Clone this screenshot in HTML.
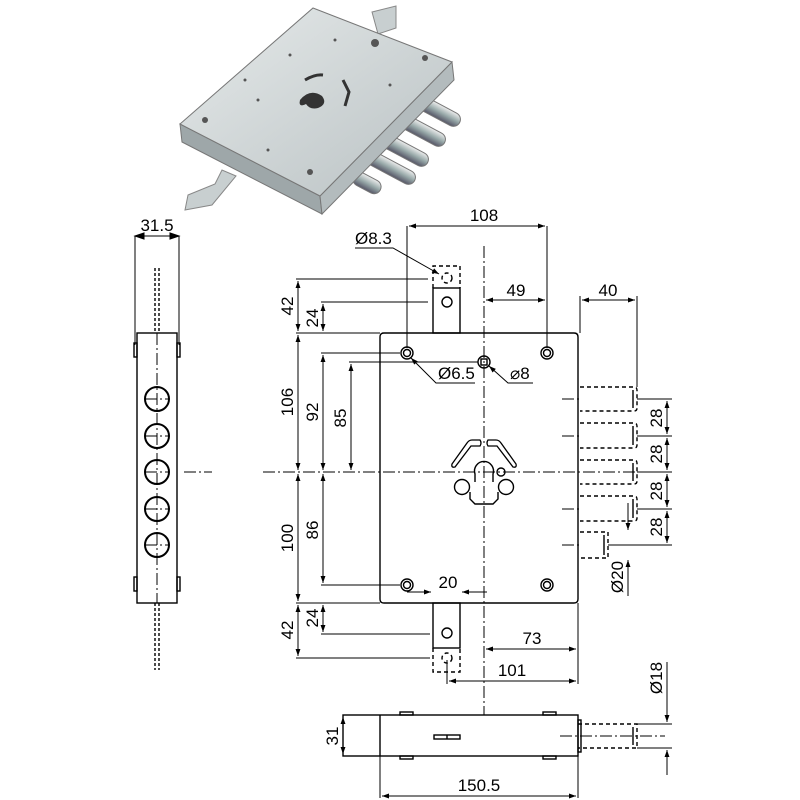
<!DOCTYPE html>
<html><head><meta charset="utf-8"><style>
html,body{margin:0;padding:0;background:#fff;}
svg{display:block;}
text{font-family:"Liberation Sans",sans-serif;font-size:17px;fill:#000;}
</style></head><body>
<svg width="800" height="800" viewBox="0 0 800 800" xmlns="http://www.w3.org/2000/svg">
<defs>
<marker id="a" viewBox="0 0 10 10" refX="10" refY="5" markerWidth="9" markerHeight="7" orient="auto-start-reverse" markerUnits="userSpaceOnUse"><path d="M0,1.5 L10,5 L0,8.5z" fill="#000"/></marker>
<linearGradient id="g" x1="0" y1="0" x2="1" y2="1"><stop offset="0" stop-color="#e6eaea"/><stop offset="1" stop-color="#b9c1c3"/></linearGradient>
<linearGradient id="c" x1="0" y1="0" x2="0" y2="1"><stop offset="0" stop-color="#eee"/><stop offset="0.5" stop-color="#9aa"/><stop offset="1" stop-color="#556"/></linearGradient>
</defs>

<!-- photo -->
<g>
<polygon points="372,12 396,6 396,28 378,34" fill="#c8cfd0" stroke="#888"/>
<polygon points="188,195 215,184 222,170 236,176 212,205 185,210" fill="#c8cfd0" stroke="#888"/>
<g stroke="#777" stroke-width="1">
<g fill="url(#c)">
<rect x="405" y="102" width="58" height="14" rx="7" transform="rotate(28 434 109)"/>
<rect x="390" y="122" width="58" height="14" rx="7" transform="rotate(28 419 129)"/>
<rect x="373" y="142" width="58" height="14" rx="7" transform="rotate(28 402 149)"/>
<rect x="360" y="160" width="58" height="14" rx="7" transform="rotate(28 389 167)"/>
<rect x="352" y="176" width="30" height="14" rx="7" transform="rotate(28 367 183)"/>
</g>
<polygon points="180,124 320,196 322,214 182,142" fill="#9ea7a9"/>
<polygon points="320,196 452,62 454,80 322,214" fill="#b3bbbd"/>
<polygon points="313,8 452,62 320,196 180,124" fill="url(#g)"/>
</g>
<path d="M305,80 q10,-6 18,-5 M343,80 l6,12 l-4,14" fill="none" stroke="#333" stroke-width="3"/>
<path d="M300,100 q10,-12 22,-4 q6,8 -4,12 q-8,2 -12,-4 q-8,4 -6,-4z" fill="#333"/>
<g fill="#555"><circle cx="205" cy="120" r="3"/><circle cx="310" cy="172" r="3"/><circle cx="375" cy="43" r="4"/><circle cx="425" cy="58" r="3"/><circle cx="290" cy="55" r="1.5"/><circle cx="335" cy="40" r="1.5"/><circle cx="258" cy="100" r="1.5"/><circle cx="268" cy="150" r="1.5"/><circle cx="390" cy="85" r="1.5"/><circle cx="245" cy="80" r="1.5"/></g>
</g>

<g fill="none" stroke="#000" stroke-width="1.4">
<path d="M384,333 H574 Q578,333 578,337 V599 Q578,603 574,603 H384 Q380,603 380,599 V337 Q380,333 384,333z"/>
<rect x="433" y="288" width="27" height="45"/>
<rect x="433" y="603" width="27" height="45"/>
<circle cx="447" cy="302" r="5"/>
<circle cx="447" cy="633" r="5"/>
<g stroke-dasharray="4,3">
<path d="M433,288 V266 H460 V288"/>
<path d="M433,648 V672 H460 V648"/>
<circle cx="447" cy="278" r="5"/>
<circle cx="447" cy="658" r="5"/>
<path d="M580,387 H634 Q637,387 637,390 V408 Q637,411 634,411 H580"/>
<path d="M580,423 H634 Q637,423 637,426 V445 Q637,448 634,448 H580"/>
<path d="M580,460 H634 Q637,460 637,463 V481 Q637,484 634,484 H580"/>
<path d="M580,496 H634 Q637,496 637,499 V518 Q637,521 634,521 H580"/>
<path d="M580,532 H608 V558 H580"/>
<path d="M578,724 H637 V748 H578"/>
</g>
<path d="M633,390 V408 M633,426 V445 M633,463 V481 M633,499 V518 M604,535 V555 M633,727 V745"/>
<g>
<circle cx="407" cy="353" r="6"/><circle cx="407" cy="353" r="3.5"/>
<circle cx="547" cy="353" r="6"/><circle cx="547" cy="353" r="3.5"/>
<circle cx="407" cy="585" r="6"/><circle cx="407" cy="585" r="3.5"/>
<circle cx="547" cy="585" r="6"/><circle cx="547" cy="585" r="3.5"/>
<circle cx="484" cy="362" r="6"/><rect x="481" y="359" width="6" height="6"/>
</g>
<!-- keyhole -->
<path d="M480,440 H472 Q469,440 467,443 L452,464 Q451,468 455,467 L471,446 H480 Q482,443 480,440z" stroke-width="1.3"/>
<path d="M488,440 H496 Q499,440 501,443 L516,464 Q517,468 513,467 L497,446 H488 Q486,443 488,440z" stroke-width="1.3"/>
<path d="M475,482 L475,474 A9.5,9.5 0 1,1 493,474 L493,482"/>
<circle cx="462" cy="487" r="7.5"/>
<circle cx="506" cy="487" r="7.5"/>
<path d="M470,492 V499 L475,504 H493 L498,499 V492"/>
<circle cx="501" cy="472" r="4"/>
<!-- side view -->
<rect x="137" y="333" width="40" height="270"/>
<rect x="134" y="343" width="3" height="14"/><rect x="177" y="343" width="3" height="14"/>
<rect x="134" y="577" width="3" height="14"/><rect x="177" y="577" width="3" height="14"/>
<g stroke-width="2"><circle cx="157" cy="399" r="12"/><circle cx="157" cy="436" r="12"/><circle cx="157" cy="472" r="12"/><circle cx="157" cy="509" r="12"/><circle cx="157" cy="545" r="12"/></g>
<path d="M155,268 V333 M159,268 V333 M155,603 V670 M159,603 V670" stroke-dasharray="3,2"/>
<!-- bottom view -->
<rect x="343" y="715" width="235" height="41"/>
<path d="M380,715 V756"/>
<rect x="400" y="712" width="13" height="3"/><rect x="543" y="712" width="13" height="3"/>
<rect x="400" y="756" width="13" height="3"/><rect x="543" y="756" width="13" height="3"/>
<rect x="434" y="735" width="26" height="4"/><path d="M447,735 V739"/>
<rect x="578" y="720" width="3" height="32"/>
</g>

<g fill="none" stroke="#000" stroke-width="1" stroke-dasharray="12,3,2,3">
<path d="M484,246 V715"/>
<path d="M263,472 H660"/>
<path d="M184,472 H212"/>
<path d="M157,333 V603"/>
<path d="M145,399 H169 M145,436 H169 M145,472 H169 M145,509 H169 M145,545 H169"/>
<path d="M562,399 H582 M562,436 H582 M562,509 H582 M562,545 H582"/>
<path d="M560,736 H665"/>
</g>

<g fill="none" stroke="#000" stroke-width="1">
<path d="M407,226 V348 M547,226 V348"/>
<path d="M409,226 H545" marker-start="url(#a)" marker-end="url(#a)"/>
<path d="M486,300 H545" marker-start="url(#a)" marker-end="url(#a)"/>
<path d="M547,300 V333"/>
<path d="M580,296 V333 M637,296 V387"/>
<path d="M582,300 H635" marker-start="url(#a)" marker-end="url(#a)"/>
<path d="M355,248 H393 L439,274" marker-end="url(#a)"/>
<path d="M475,383 H436 L411,358" marker-end="url(#a)"/>
<path d="M533,383 H508 L489,366" marker-end="url(#a)"/>
<path d="M296,279 H428 M321,302 H428 M296,333 H380 M321,353 H400 M349,362 H478 M321,585 H400 M296,603 H380 M321,634 H430 M296,658 H430"/>
<path d="M298,281 V331" marker-start="url(#a)" marker-end="url(#a)"/>
<path d="M323,304 V331" marker-start="url(#a)" marker-end="url(#a)"/>
<path d="M298,335 V470" marker-start="url(#a)" marker-end="url(#a)"/>
<path d="M298,474 V601" marker-start="url(#a)" marker-end="url(#a)"/>
<path d="M323,355 V470" marker-start="url(#a)" marker-end="url(#a)"/>
<path d="M351,364 V470" marker-start="url(#a)" marker-end="url(#a)"/>
<path d="M323,474 V583" marker-start="url(#a)" marker-end="url(#a)"/>
<path d="M323,605 V632" marker-start="url(#a)" marker-end="url(#a)"/>
<path d="M298,605 V656" marker-start="url(#a)" marker-end="url(#a)"/>
<path d="M407,592 H431" marker-end="url(#a)"/>
<path d="M487,592 H462" marker-end="url(#a)"/>
<path d="M578,603 V684 M447,660 V684"/>
<path d="M486,649 H576" marker-start="url(#a)" marker-end="url(#a)"/>
<path d="M449,681 H576" marker-start="url(#a)" marker-end="url(#a)"/>
<path d="M637,399 H672 M637,436 H672 M637,472 H672 M637,509 H672 M608,545 H672"/>
<path d="M667,401 V434" marker-start="url(#a)" marker-end="url(#a)"/>
<path d="M667,438 V470" marker-start="url(#a)" marker-end="url(#a)"/>
<path d="M667,474 V507" marker-start="url(#a)" marker-end="url(#a)"/>
<path d="M667,511 V543" marker-start="url(#a)" marker-end="url(#a)"/>
<path d="M628,503 V530" marker-end="url(#a)"/>
<path d="M628,596 V560" marker-end="url(#a)"/>
<path d="M637,724 H672 M637,748 H672"/>
<path d="M667,662 V722" marker-end="url(#a)"/>
<path d="M667,775 V750" marker-end="url(#a)"/>
<path d="M343,717 V754" marker-start="url(#a)" marker-end="url(#a)"/>
<path d="M380,756 V798 M578,756 V798"/>
<path d="M382,796 H576" marker-start="url(#a)" marker-end="url(#a)"/>
<path d="M135,236 V345 M179,236 V345"/>
<path d="M135,236 H179"/>
<path d="M135,236 l9,-3 v6z M179,236 l-9,-3 v6z" fill="#000"/>
</g>

<g>
<text x="484" y="221" text-anchor="middle">108</text>
<text x="355" y="244">Ø8.3</text>
<text x="516" y="296" text-anchor="middle">49</text>
<text x="608" y="296" text-anchor="middle">40</text>
<text x="438" y="379">Ø6.5</text>
<text x="510" y="379">⌀8</text>
<text x="448" y="588" text-anchor="middle">20</text>
<text x="532" y="644" text-anchor="middle">73</text>
<text x="512" y="676" text-anchor="middle">101</text>
<text x="479" y="791" text-anchor="middle">150.5</text>
<text x="157" y="231" text-anchor="middle">31.5</text>
<text transform="translate(293,306) rotate(-90)" text-anchor="middle">42</text>
<text transform="translate(318,318) rotate(-90)" text-anchor="middle">24</text>
<text transform="translate(293,402) rotate(-90)" text-anchor="middle">106</text>
<text transform="translate(318,412) rotate(-90)" text-anchor="middle">92</text>
<text transform="translate(346,418) rotate(-90)" text-anchor="middle">85</text>
<text transform="translate(293,538) rotate(-90)" text-anchor="middle">100</text>
<text transform="translate(318,530) rotate(-90)" text-anchor="middle">86</text>
<text transform="translate(318,618) rotate(-90)" text-anchor="middle">24</text>
<text transform="translate(293,630) rotate(-90)" text-anchor="middle">42</text>
<text transform="translate(662,418) rotate(-90)" text-anchor="middle">28</text>
<text transform="translate(662,454) rotate(-90)" text-anchor="middle">28</text>
<text transform="translate(662,491) rotate(-90)" text-anchor="middle">28</text>
<text transform="translate(662,527) rotate(-90)" text-anchor="middle">28</text>
<text transform="translate(623,577) rotate(-90)" text-anchor="middle">Ø20</text>
<text transform="translate(662,678) rotate(-90)" text-anchor="middle">Ø18</text>
<text transform="translate(338,736) rotate(-90)" text-anchor="middle">31</text>
</g>
</svg>
</body></html>
